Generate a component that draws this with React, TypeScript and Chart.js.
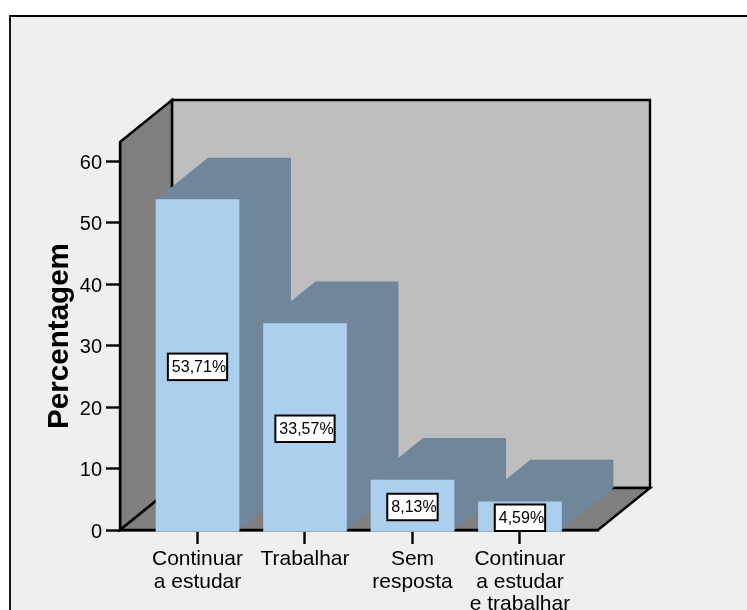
import React, { useEffect, useRef } from "react";
import { Chart, registerables } from "chart.js";

Chart.register(...registerables);

const categories: string[][] = [
  ["Continuar", "a estudar"],
  ["Trabalhar"],
  ["Sem", "resposta"],
  ["Continuar", "a estudar", "e trabalhar"],
];
const percentages: number[] = [53.71, 33.57, 8.13, 4.59];
const yTicks: number[] = [0, 10, 20, 30, 40, 50, 60];
const yTitle = "Percentagem";

const FONT = '"Liberation Sans", Arial, sans-serif';
const DX = 52;
const DY = -42;
const BLACK = "#000000";

const poly = (ctx: CanvasRenderingContext2D, pts: number[][], fill: string, stroke?: string) => {
  ctx.beginPath();
  pts.forEach(([x, y], i) => (i ? ctx.lineTo(x, y) : ctx.moveTo(x, y)));
  ctx.closePath();
  ctx.fillStyle = fill;
  ctx.fill();
  if (stroke) {
    ctx.strokeStyle = stroke;
    ctx.lineWidth = 2.4;
    ctx.lineJoin = "miter";
    ctx.stroke();
  }
};

const shifted = new WeakSet<object>();

const scene = {
  id: "scene",
  beforeDraw(chart: any) {
    const { ctx, chartArea: a, width, height } = chart;
    // nudge the y tick labels down a little, as the reference's sit below their ticks
    const items = chart.scales.y.getLabelItems(a);
    if (!shifted.has(items)) {
      shifted.add(items);
      items.forEach((it: any) => { it.options.translation[1] += 2.2; });
    }
    ctx.save();
    ctx.fillStyle = "#ffffff";
    ctx.fillRect(0, 0, width, height);
    ctx.fillStyle = "#efefef";
    ctx.fillRect(10, 16, width, height);
    ctx.strokeStyle = BLACK;
    ctx.lineWidth = 1.8;
    ctx.beginPath();
    ctx.moveTo(10, height + 2);
    ctx.lineTo(10, 16);
    ctx.lineTo(width + 2, 16);
    ctx.stroke();

    const bl = a.left + DX, br = a.right + DX, bt = a.top + DY, bb = a.bottom + DY;
    poly(ctx, [[bl, bt], [br, bt], [br, bb], [bl, bb]], "#bebebe", BLACK);
    poly(ctx, [[a.left, a.top], [bl, bt], [bl, bb], [a.left, a.bottom]], "#7f7f7f", BLACK);
    poly(ctx, [[a.left, a.bottom], [bl, bb], [br, bb], [a.right, a.bottom]], "#7f7f7f", BLACK);
    ctx.restore();
  },
  beforeDatasetsDraw(chart: any) {
    const { ctx } = chart;
    const zero = chart.scales.y.getPixelForValue(0);
    ctx.save();
    chart.getDatasetMeta(0).data.forEach((b: any) => {
      const l = b.x - b.width / 2, r = b.x + b.width / 2;
      poly(ctx, [
        [l, b.y],
        [l + DX, b.y + DY],
        [r + DX, b.y + DY],
        [r + DX, zero + DY],
        [r, zero],
      ], "#6f869b");
    });
    ctx.restore();
  },
  afterDatasetsDraw(chart: any) {
    const { ctx } = chart;
    const zero = chart.scales.y.getPixelForValue(0);
    ctx.save();
    ctx.font = `16px ${FONT}`;
    ctx.textBaseline = "middle";
    ctx.textAlign = "left";
    chart.getDatasetMeta(0).data.forEach((b: any, i: number) => {
      const label = percentages[i].toFixed(2).replace(".", ",") + "%";
      const tw = ctx.measureText(label).width;
      const w = tw + 5, h = 26.5;
      const cy = Math.min((b.y + zero) / 2 + 2, zero - h / 2 + 1);
      ctx.fillStyle = "#ffffff";
      ctx.fillRect(b.x - w / 2, cy - h / 2, w, h);
      ctx.strokeStyle = BLACK;
      ctx.lineWidth = 2;
      ctx.strokeRect(b.x - w / 2, cy - h / 2, w, h);
      ctx.fillStyle = BLACK;
      ctx.fillText(label, b.x - w / 2 + 4, cy + 1);
    });
    ctx.restore();
  },
};

export default function App() {
  const ref = useRef<HTMLCanvasElement>(null);
  useEffect(() => {
    const chart = new Chart(ref.current!, {
      type: "bar",
      data: {
        datasets: [
          {
            data: percentages.map((y, x) => ({ x, y })),
            backgroundColor: "#adcfee",
            borderWidth: 0,
            barThickness: 83,
            base: -0.25,
            clip: false,
          } as any,
        ],
      },
      options: {
        responsive: false,
        animation: false,
        layout: { padding: { top: 142, right: 149, left: 0, bottom: 0 } },
        plugins: { legend: { display: false }, tooltip: { enabled: false } },
        scales: {
          x: {
            type: "linear",
            min: -0.721,
            max: 3.726,
            offset: false,
            afterFit: (s: any) => { s.height = 80; },
            afterBuildTicks: (s: any) => { s.ticks = categories.map((_, i) => ({ value: i })); },
            grid: {
              offset: false,
              drawOnChartArea: false,
              drawTicks: true,
              tickLength: 14,
              tickColor: BLACK,
              tickWidth: 2.4,
            },
            border: { color: BLACK, width: 2.4 },
            ticks: {
              autoSkip: false,
              maxRotation: 0,
              minRotation: 0,
              padding: 4,
              color: BLACK,
              font: { family: FONT, size: 21, lineHeight: 1.07 },
              callback: (v: any) => categories[v] ?? "",
            },
          },
          y: {
            type: "linear",
            min: 0,
            max: 63.09,
            afterFit: (s: any) => { s.width = 120; },
            afterBuildTicks: (s: any) => { s.ticks = yTicks.map((value) => ({ value })); },
            grid: {
              drawOnChartArea: false,
              drawTicks: true,
              tickLength: 14,
              tickColor: BLACK,
              tickWidth: 2.4,
            },
            border: { color: BLACK, width: 2.4 },
            ticks: {
              padding: 4,
              color: BLACK,
              font: { family: FONT, size: 20 },
            },
            title: {
              display: true,
              text: yTitle,
              color: BLACK,
              font: { family: FONT, size: 29.6, weight: "bold", lineHeight: 1.2 },
              padding: { top: 42, bottom: 0 },
            },
          },
        },
      },
      plugins: [scene],
    } as any);
    return () => chart.destroy();
  }, []);
  return (
    <canvas
      ref={ref}
      width={747}
      height={610}
      style={{ position: "fixed", left: 0, top: 0, display: "block", width: 747, height: 610 }}
    />
  );
}
